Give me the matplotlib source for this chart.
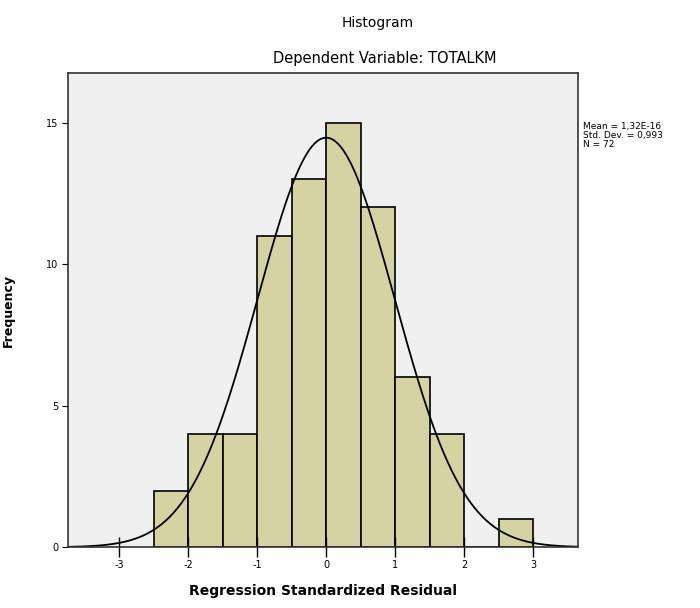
import numpy as np
import matplotlib.pyplot as plt

# histogram of regression standardized residuals
bin_edges = [-2.5, -2.0, -1.5, -1.0, -0.5, 0.0, 0.5, 1.0, 1.5, 2.0, 2.5, 3.0]
counts = [2, 4, 4, 11, 13, 15, 12, 6, 4, 0, 1]
x_ticks = [-3, -2, -1, 0, 1, 2, 3]
y_ticks = [0, 5, 10, 15]
mean_val = 1.32e-16
std_val = 0.993
n_val = 72

fig = plt.figure(figsize=(7, 6.08), dpi=100)
ax = fig.add_axes([0.097, 0.100, 0.729, 0.780])
ax.set_facecolor('#f0f0f0')

ax.bar(bin_edges[:-1], counts, width=np.diff(bin_edges), align='edge',
       color='#d4d4a2', edgecolor='black', linewidth=1.2)

# normal curve from the stats shown
xs = np.linspace(-3.75, 3.65, 400)
bw = 0.5
ys = n_val * bw * np.exp(-0.5 * ((xs - 0) / std_val) ** 2) / (std_val * np.sqrt(2 * np.pi))
ax.plot(xs, ys, color='black', linewidth=1.3)

ax.set_xlim(-3.74, 3.65)
ax.set_ylim(0, 16.75)
ax.set_xticks(x_ticks)
ax.set_xticklabels([str(t) for t in x_ticks], fontsize=7)
ax.set_yticks(y_ticks)
ax.set_yticklabels([str(t) for t in y_ticks], fontsize=7)
ax.tick_params(axis='x', length=14, width=1, direction='inout', pad=2)
ax.tick_params(axis='y', length=4, width=0.8, direction='out', pad=3)
for s in ax.spines.values():
    s.set_linewidth(1.2)
    s.set_color('#333333')

ax.set_xlabel('Regression Standardized Residual', fontsize=10, fontweight='bold', labelpad=10)
ax.set_ylabel('Frequency', fontsize=9, fontweight='bold', labelpad=22)

fig.text(0.54, 0.962, 'Histogram', ha='center', va='center', fontsize=10)
fig.text(0.55, 0.903, 'Dependent Variable: TOTALKM', ha='center', va='center', fontsize=10.5)

fig.text(0.833, 0.80, 'Mean = 1,32E-16\nStd. Dev. = 0,993\nN = 72',
         ha='left', va='top', fontsize=6.5, linespacing=1.0)

plt.savefig('out.png', dpi=100)
